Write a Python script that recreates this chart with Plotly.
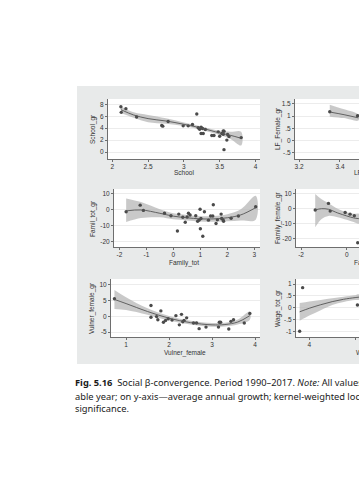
import plotly.graph_objects as go

W, H = 359, 480

# ---------------- data ----------------
# Panel: School -> School_gr
school_x = [2.12, 2.125, 2.19, 2.34, 2.69, 2.705, 2.78, 2.99, 3.06, 3.12, 3.18, 3.20, 3.22, 3.24, 3.24,
            3.26, 3.27, 3.30, 3.39, 3.42, 3.48, 3.50, 3.53, 3.55, 3.55, 3.56, 3.56, 3.60, 3.61, 3.63, 3.80]
school_gr = [7.6, 6.65, 7.27, 5.86, 4.45, 4.34, 5.13, 4.39, 4.39, 4.62, 6.37, 4.06, 3.83, 4.17, 3.1,
             3.94, 3.1, 3.77, 2.76, 2.76, 3.38, 2.65, 3.1, 3.55, 2.99, 3.49, 0.4, 2.0, 2.93, 2.6, 2.42]
school_fit_x = [2.12, 2.3, 2.5, 2.75, 3.0, 3.25, 3.5, 3.65, 3.8]
school_fit_y = [7.1, 6.2, 5.6, 5.2, 4.65, 4.0, 3.2, 2.8, 2.3]
school_lo = [6.55, 5.75, 5.0, 4.75, 4.35, 3.7, 2.85, 2.2, 1.1]
school_hi = [7.65, 6.65, 6.2, 5.65, 4.95, 4.3, 3.55, 3.4, 3.4]

# Panel: LF_Female -> LF_Female_gr
lf_x = [3.35, 3.486]
lf_gr = [1.18, 1.02]
lf_fit_x = [3.35, 3.42, 3.49]
lf_fit_y = [1.17, 1.06, 0.93]
lf_lo = [0.98, 0.92, 0.82]
lf_hi = [1.47, 1.28, 1.06]

# Panel: Family_tot -> Famil_tot_gr
fam_x = [-1.75, -1.23, -1.11, -0.33, -0.09, 0.15, 0.2, 0.35, 0.44, 0.51, 0.56, 0.62, 0.83, 0.9, 0.95,
         0.99, 1.0, 1.02, 1.09, 1.15, 1.30, 1.38, 1.46, 1.48, 1.58, 1.63, 1.77, 1.79, 1.84, 1.86, 2.14, 2.41, 3.05]
fam_gr = [-1.5, 2.6, -0.7, -2.5, -4.0, -13.6, -3.0, -5.0, -8.1, -4.8, -2.5, -3.6, -4.0, -7.5, -6.8,
          0.0, -12.2, -5.8, -16.9, -1.5, -6.8, -4.2, -4.2, 2.8, -8.9, -6.6, -3.0, -5.8, -6.6, -7.5, -5.6, -4.2, 1.6]
fam_fit_x = [-1.75, -1.2, -0.5, 0.0, 0.5, 1.0, 1.5, 2.0, 2.5, 3.05]
fam_fit_y = [-1.0, -0.4, -2.5, -4.3, -5.3, -6.0, -6.0, -5.3, -3.5, 1.0]
fam_lo = [-8.0, -5.5, -5.0, -6.3, -7.0, -7.7, -7.8, -7.5, -7.0, -6.5]
fam_hi = [6.8, 4.5, 0.0, -2.5, -3.5, -4.3, -4.2, -3.1, 0.0, 8.4]

# Panel: Family_female -> Family_female_gr
famf_x = [-1.38, -0.80, -0.725, -0.07, 0.145, 0.33, 0.478]
famf_gr = [-1.1, 3.3, -1.8, -2.7, -3.8, -4.9, -22.7]
famf_fit_x = [-1.38, -1.1, -0.8, -0.4, 0.0, 0.3, 0.53]
famf_fit_y = [-1.0, -0.2, -0.6, -3.0, -5.0, -6.3, -6.8]
famf_lo = [-12.5, -7.0, -5.0, -5.8, -7.5, -9.0, -10.0]
famf_hi = [9.5, 6.0, 3.5, -0.3, -2.5, -3.6, -3.6]

# Panel: Vulner_female -> Vulner_female_gr
vul_x = [0.73, 1.58, 1.58, 1.71, 1.74, 1.81, 1.87, 1.92, 1.98, 2.07, 2.16, 2.24, 2.29, 2.32, 2.35, 2.41,
         2.57, 2.64, 2.70, 2.86, 3.15, 3.17, 3.20, 3.39, 3.44, 3.50, 3.75, 3.88]
vul_gr = [5.5, 3.4, -0.3, -0.1, -1.1, 1.7, -1.9, -1.3, -0.8, -1.2, 0.2, -2.7, 0.6, -1.7, -1.3, -0.5,
          -2.1, -2.1, -3.9, -3.4, -3.4, -1.9, -1.9, -4.0, -1.6, -1.1, -2.1, 0.9]
vul_fit_x = [0.73, 1.0, 1.5, 2.0, 2.5, 3.0, 3.3, 3.6, 3.88]
vul_fit_y = [5.3, 4.0, 1.5, -0.6, -2.0, -2.7, -2.6, -1.8, 0.2]
vul_lo = [2.3, 2.0, 0.5, -1.3, -2.6, -3.3, -3.2, -2.6, -1.1]
vul_hi = [8.3, 6.0, 2.5, 0.1, -1.4, -2.1, -2.0, -1.0, 1.5]

# Panel: Wage_tot -> Wage_tot_gr
wage_x = [3.971, 3.958, 4.21]
wage_gr = [0.85, -0.99, 0.12]
wage_fit_x = [3.958, 4.0, 4.05, 4.1, 4.15, 4.2, 4.217]
wage_fit_y = [-0.17, -0.02, 0.13, 0.26, 0.36, 0.43, 0.45]
wage_lo = [-0.55, -0.33, -0.1, 0.12, 0.25, 0.33, 0.34]
wage_hi = [0.2, 0.27, 0.33, 0.4, 0.47, 0.53, 0.56]

# ---------------- style ----------------
BG = "#e8eaea"
MK = "#4a4a4a"
LN = "#555555"
BAND = "rgba(180,180,180,0.72)"
TXT = "#333333"
FONT = "Liberation Sans"


def px(x):
    return x / W


def py(y):
    return 1 - y / H


panels = [
    (school_x, school_gr, school_fit_x, school_fit_y, school_lo, school_hi,
     (108, 260), (99, 159), [1.94, 4.063], [-1.17, 8.89],
     [2, 2.5, 3, 3.5, 4], ["2", "2.5", "3", "3.5", "4"], [0, 2, 4, 6, 8], ["0", "2", "4", "6", "8"]),
    (lf_x, lf_gr, lf_fit_x, lf_fit_y, lf_lo, lf_hi,
     (295, 359), (99, 159), [3.18, 3.493], [-0.76, 1.705],
     [3.2, 3.4, 3.6], ["3.2", "3.4", "3.6"], [-0.5, 0, 0.5, 1, 1.5], ["-.5", "0", ".5", "1", "1.5"]),
    (fam_x, fam_gr, fam_fit_x, fam_fit_y, fam_lo, fam_hi,
     (114, 260), (189, 247), [-2.2, 3.21], [-23.6, 12.7],
     [-2, -1, 0, 1, 2, 3], ["-2", "-1", "0", "1", "2", "3"], [-20, -10, 0, 10], ["-20", "-10", "0", "10"]),
    (famf_x, famf_gr, famf_fit_x, famf_fit_y, famf_lo, famf_hi,
     (296, 359), (189, 247), [-2.22, 0.535], [-25.5, 12.8],
     [-2, 0, 2], ["-2", "0", "2"], [-20, -10, 0, 10], ["-20", "-10", "0", "10"]),
    (vul_x, vul_gr, vul_fit_x, vul_fit_y, vul_lo, vul_hi,
     (111, 260), (279, 337), [0.65, 4.116], [-6.52, 11.73],
     [1, 2, 3, 4], ["1", "2", "3", "4"], [-5, 0, 5, 10], ["-5", "0", "5", "10"]),
    (wage_x, wage_gr, wage_fit_x, wage_fit_y, wage_lo, wage_hi,
     (296, 359), (279, 337), [3.942, 4.217], [-1.233, 1.216],
     [4, 4.2, 4.4], ["4", "4.2", "4.4"], [-1, -0.5, 0, 0.5, 1], ["-1", "-.5", "0", ".5", "1"]),
]

fig = go.Figure()
layout = {}
for i, (x, y, fx, fy, lo, hi, xd, yd, xr, yr, xt, xtt, yt, ytt) in enumerate(panels, start=1):
    xa = "x" if i == 1 else f"x{i}"
    ya = "y" if i == 1 else f"y{i}"
    fig.add_trace(go.Scatter(x=fx + fx[::-1], y=hi + lo[::-1], fill="toself", fillcolor=BAND,
                             line=dict(width=0, color=BAND, shape="spline"), mode="lines",
                             xaxis=xa, yaxis=ya, hoverinfo="skip", showlegend=False))
    fig.add_trace(go.Scatter(x=x, y=y, mode="markers",
                             marker=dict(size=3.4, color=MK),
                             xaxis=xa, yaxis=ya, showlegend=False))
    fig.add_trace(go.Scatter(x=fx, y=fy, mode="lines",
                             line=dict(width=0.9, color=LN, shape="spline"),
                             xaxis=xa, yaxis=ya, showlegend=False))
    common = dict(showline=True, linecolor="#6e6e6e", linewidth=1, ticks="outside", ticklen=2,
                  tickwidth=0.8, tickcolor="#6e6e6e", tickfont=dict(size=6.5, color=TXT, family=FONT),
                  zeroline=False, fixedrange=True)
    layout["xaxis" if i == 1 else f"xaxis{i}"] = dict(
        domain=[px(xd[0]), px(xd[1])], range=xr, tickvals=xt, ticktext=xtt,
        showgrid=False, anchor=ya, ticklabelstandoff=-1, **common)
    layout["yaxis" if i == 1 else f"yaxis{i}"] = dict(
        domain=[py(yd[1]), py(yd[0])], range=yr, tickvals=yt, ticktext=ytt,
        showgrid=True, gridcolor="#ececec", gridwidth=0.8, anchor=xa, **common)

fig.update_layout(**layout)

shapes = [dict(type="rect", xref="paper", yref="paper", x0=px(77), x1=px(362), y0=py(364), y1=py(86),
               fillcolor=BG, line=dict(width=0), layer="below")]
for p in panels:
    xd, yd = p[6], p[7]
    shapes.append(dict(type="rect", xref="paper", yref="paper", x0=px(xd[0]), x1=px(xd[1]),
                       y0=py(yd[1]), y1=py(yd[0]), fillcolor="white", line=dict(width=0), layer="below"))

ann = []
xtitles = [("School", 184, 172.5, "center"), ("LF_Female", 352, 172.5, "left"),
           ("Family_tot", 184, 262.5, "center"), ("Family_female", 352, 262.5, "left"),
           ("Vulner_female", 185, 352.5, "center"), ("Wage_tot", 354, 352.5, "left")]
for t, xx, yy, anc in xtitles:
    ann.append(dict(text=t, x=px(xx), y=py(yy), xref="paper", yref="paper", showarrow=False,
                    xanchor=anc, yanchor="middle", font=dict(size=6.5, color=TXT, family=FONT)))
ytitles = [("School_gr", 93, 129), ("LF_Female_gr", 278, 129),
           ("Famil_tot_gr", 93, 218), ("Family_female_gr", 278, 218),
           ("Vulner_female_gr", 92, 308), ("Wage_tot_gr", 278, 308)]
for t, xx, yy in ytitles:
    ann.append(dict(text=t, x=px(xx), y=py(yy), xref="paper", yref="paper", showarrow=False,
                    textangle=-90, xanchor="center", yanchor="middle",
                    font=dict(size=6.5, color=TXT, family=FONT)))

cap_font = dict(size=9.3, color="#1a1a1a", family="Noto Sans")
caption = [
    ("<b>Fig. 5.16</b>  Social β-convergence. Period 1990–2017. <i>Note:</i> All values are", 382),
    ("able year; on y-axis—average annual growth; kernel-weighted local", 396),
    ("significance.", 408),
]
for t, yy in caption:
    ann.append(dict(text=t, x=px(73), y=py(yy), xref="paper", yref="paper", showarrow=False,
                    xanchor="left", yanchor="middle", font=cap_font))

fig.update_layout(width=W, height=H, margin=dict(l=0, r=0, t=0, b=0),
                  paper_bgcolor="white", plot_bgcolor="rgba(0,0,0,0)",
                  shapes=shapes, annotations=ann, showlegend=False)

fig.write_html("out.html", config={"displayModeBar": False},
               post_script="document.body.style.margin='0';")
